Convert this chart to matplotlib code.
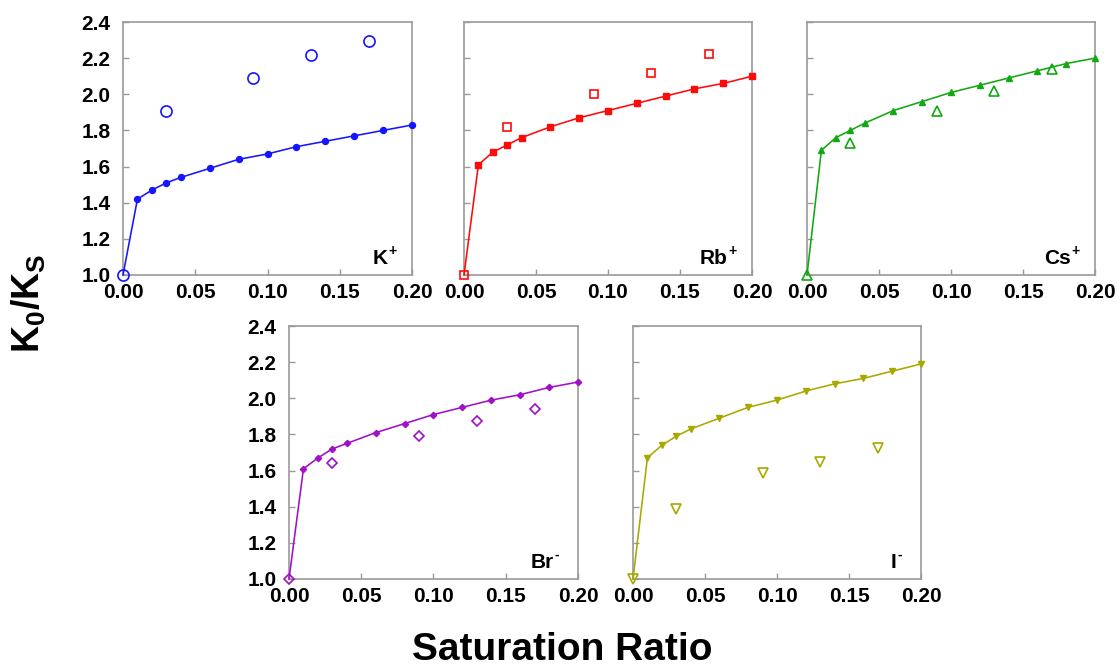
import matplotlib
matplotlib.use("Agg")
import matplotlib.pyplot as plt

plt.rcParams['font.family'] = ['Liberation Sans', 'DejaVu Sans']
plt.rcParams['mathtext.fontset'] = 'custom'
plt.rcParams['mathtext.rm'] = 'Liberation Sans'
plt.rcParams['mathtext.bf'] = 'Liberation Sans:bold'

# model (line) x values
x_model = [0.0, 0.01, 0.02, 0.03, 0.04, 0.06, 0.08, 0.10, 0.12, 0.14, 0.16, 0.18, 0.20]
# experimental x values
x_exp = [0.0, 0.03, 0.09, 0.13, 0.17]

k_model = [1.0, 1.42, 1.47, 1.51, 1.54, 1.59, 1.64, 1.67, 1.71, 1.74, 1.77, 1.80, 1.83]
k_exp = [1.0, 1.905, 2.09, 2.215, 2.295]

rb_model = [1.0, 1.61, 1.68, 1.72, 1.76, 1.82, 1.87, 1.91, 1.95, 1.99, 2.03, 2.06, 2.10]
rb_exp = [1.0, 1.82, 2.00, 2.12, 2.225]

cs_model = [1.0, 1.69, 1.76, 1.80, 1.84, 1.91, 1.96, 2.01, 2.05, 2.09, 2.13, 2.17, 2.20]
cs_exp = [1.0, 1.73, 1.91, 2.02, 2.14]

br_model = [1.0, 1.61, 1.67, 1.72, 1.75, 1.81, 1.86, 1.91, 1.95, 1.99, 2.02, 2.06, 2.09]
br_exp = [1.0, 1.64, 1.79, 1.875, 1.94]

i_model = [1.0, 1.67, 1.74, 1.79, 1.83, 1.89, 1.95, 1.99, 2.04, 2.08, 2.11, 2.15, 2.19]
i_exp = [1.0, 1.385, 1.587, 1.646, 1.726]

ion_names = ['K', 'Rb', 'Cs', 'Br', 'I']
ion_charges = ['+', '+', '+', '-', '-']
x_ticks = [0.00, 0.05, 0.10, 0.15, 0.20]
y_ticks = [1.0, 1.2, 1.4, 1.6, 1.8, 2.0, 2.2, 2.4]

colors = ['#1515ff', '#ff0a0a', '#12a812', '#a010c8', '#a8a800']
markers = ['o', 's', '^', 'D', 'v']
filled_sizes = [4.3, 3.8, 3.8, 3.2, 3.8]
open_sizes = [8, 6.3, 7.5, 5.4, 7.5]

models = [k_model, rb_model, cs_model, br_model, i_model]
exps = [k_exp, rb_exp, cs_exp, br_exp, i_exp]

W, H = 1118, 670
fig = plt.figure(figsize=(W / 100, H / 100), dpi=100)

# pixel boxes: left, top, right, bottom
boxes = [(123, 22, 412, 275), (464, 22, 752, 275), (807, 22, 1095, 275),
         (289, 326, 578, 579), (633, 326, 921, 579)]
show_ylabels = [True, False, False, True, False]

for i, (l, t, r, b) in enumerate(boxes):
    ax = fig.add_axes([l / W, 1 - b / H, (r - l) / W, (b - t) / H])
    c = colors[i]
    ax.plot(x_model, models[i], '-', color=c, lw=1.15, marker=markers[i],
            ms=filled_sizes[i], mfc=c, mec=c, markevery=slice(1, None),
            clip_on=False, zorder=3)
    ax.plot(x_exp, exps[i], linestyle='none', marker=markers[i], ms=open_sizes[i],
            mfc='none', mec=c, mew=1.2, clip_on=False, zorder=4)
    ax.set_xlim(0, 0.2)
    ax.set_ylim(1.0, 2.4)
    ax.set_xticks(x_ticks)
    ax.set_yticks(y_ticks)
    ax.set_xticklabels([f'{v:.2f}' for v in x_ticks], fontsize=15, fontweight='bold')
    if show_ylabels[i]:
        ax.set_yticklabels([f'{v:.1f}' for v in y_ticks], fontsize=15, fontweight='bold')
    else:
        ax.set_yticklabels([])
    ax.tick_params(axis='both', direction='in', length=4, width=1, color='#999999')
    ax.tick_params(axis='y', pad=9)
    ax.tick_params(axis='x', pad=6)
    for s in ax.spines.values():
        s.set_color('#999999')
        s.set_linewidth(1.2)
    ax.text(0.915, 0.028, ion_names[i], transform=ax.transAxes, ha='right', va='bottom',
            fontsize=15, fontweight='bold')
    ax.text(0.918, 0.068, ion_charges[i], transform=ax.transAxes, ha='left', va='bottom',
            fontsize=10, fontweight='bold')

fig.text(29 / W, 1 - 303 / H, r'K$_\mathbf{0}$/K$_\mathbf{S}$', rotation=90, ha='center', va='center',
         fontsize=27, fontweight='bold')
fig.text(562 / W, 1 - 650 / H, 'Saturation Ratio', ha='center', va='center',
         fontsize=28, fontweight='bold')

fig.savefig('out.png', dpi=100)
